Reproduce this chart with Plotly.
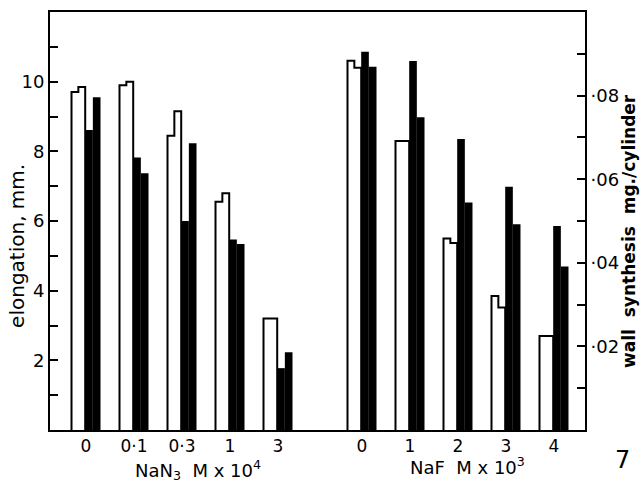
import plotly.graph_objects as go

# Concentration groups: sodium azide (x10^-4 M) then sodium fluoride (x10^-3 M)
group_pos = [0, 1, 2, 3, 4, 5.75, 6.75, 7.75, 8.75, 9.75]
group_labels = ["0", "0·1", "0·3", "1", "3", "0", "1", "2", "3", "4"]

# Elongation, mm (open bars, left axis) - two replicate experiments
elong_a = [9.7, 9.9, 8.45, 6.55, 3.2, 10.6, 8.3, 5.5, 3.85, 2.7]
elong_b = [9.85, 10.0, 9.15, 6.8, 3.2, 10.4, 8.3, 5.37, 3.52, 2.7]

# Wall synthesis, mg./cylinder (solid bars, right axis) - two replicate experiments
wall_a = [0.0718, 0.0652, 0.0500, 0.0456, 0.0148, 0.0905, 0.0883, 0.0696, 0.0582, 0.0488]
wall_b = [0.0796, 0.0614, 0.0686, 0.0445, 0.0186, 0.0869, 0.0748, 0.0544, 0.0492, 0.0391]

left_major = [2, 4, 6, 8, 10]
left_major_text = ["2", "4", "6", "8", "10"]
left_minor = [1, 3, 5, 7, 9, 11]
right_major = [0.02, 0.04, 0.06, 0.08]
right_major_text = ["·02", "·04", "·06", "·08"]
right_minor = [0.01, 0.03, 0.05, 0.07, 0.09]

FONT = "DejaVu Sans"
# bar geometry in x-axis units (one group step = 1)
W_OPEN = 0.1427
W_SOLID = 0.1594
OFF_OPEN = -0.302
OFF_SOLID = -0.0167

fig = go.Figure()

fig.add_trace(go.Bar(x=group_pos, y=elong_a, width=W_OPEN, offset=OFF_OPEN,
                     textposition="none",
                     marker=dict(color="white", line=dict(width=0)), yaxis="y"))
fig.add_trace(go.Bar(x=group_pos, y=elong_b, width=W_OPEN, offset=OFF_OPEN + W_OPEN,
                     textposition="none",
                     marker=dict(color="white", line=dict(width=0)), yaxis="y"))

# stepped outline around each pair of open bars
ox, oy = [], []
for p, a, b in zip(group_pos, elong_a, elong_b):
    xl = p + OFF_OPEN
    xm = xl + W_OPEN
    xr = xm + W_OPEN
    ox += [xl, xl, xm, xm, xr, xr, None]
    oy += [0, a, a, b, b, 0, None]
fig.add_trace(go.Scatter(x=ox, y=oy, mode="lines", yaxis="y",
                         line=dict(color="black", width=2), hoverinfo="skip"))

fig.add_trace(go.Bar(x=group_pos, y=wall_a, width=W_SOLID, offset=OFF_SOLID,
                     textposition="none",
                     marker=dict(color="black", line=dict(width=0)), yaxis="y2"))
fig.add_trace(go.Bar(x=group_pos, y=wall_b, width=W_SOLID, offset=OFF_SOLID + W_SOLID,
                     textposition="none",
                     marker=dict(color="black", line=dict(width=0)), yaxis="y2"))

tick_style = dict(ticks="inside", ticklen=8, tickwidth=1.5, tickcolor="black")

fig.update_layout(
    width=641, height=488,
    margin=dict(l=50, r=56, t=10, b=58),
    paper_bgcolor="white", plot_bgcolor="white",
    showlegend=False, barmode="overlay",
    font=dict(family=FONT, color="black", size=17),
    xaxis=dict(range=[-0.75, 10.396], tickvals=group_pos, ticktext=group_labels,
               showline=True, linecolor="black", linewidth=2, mirror=True,
               ticks="", showgrid=False, zeroline=False,
               tickfont=dict(size=17)),
    yaxis=dict(range=[0, 12], tickvals=left_major, ticktext=left_major_text,
               showline=True, linecolor="black", linewidth=2, mirror=True,
               showgrid=False, zeroline=False, tickfont=dict(size=18),
               minor=dict(tickvals=left_minor, **tick_style), **tick_style),
    yaxis2=dict(range=[0, 0.1], tickvals=right_major, ticktext=right_major_text,
                overlaying="y", side="right",
                showline=True, linecolor="black", linewidth=2,
                showgrid=False, zeroline=False, tickfont=dict(size=18),
                minor=dict(tickvals=right_minor, **tick_style), **tick_style),
    annotations=[
        dict(text="elongation, mm.", xref="paper", yref="paper",
             x=(17 - 50) / 535, y=(430 - 245) / 420, textangle=-90,
             showarrow=False, font=dict(size=20), xanchor="center", yanchor="middle"),
        dict(text="<b>wall  synthesis  mg./cylinder</b>", xref="paper", yref="paper",
             x=(629 - 50) / 535, y=(430 - 230) / 420, textangle=-90,
             showarrow=False, font=dict(size=17), xanchor="center", yanchor="middle"),
        dict(text="NaN<sub>3</sub>  M x 10<sup>4</sup>", xref="paper", yref="paper",
             x=(198 - 50) / 535, y=(430 - 470) / 420,
             showarrow=False, font=dict(size=18), xanchor="center", yanchor="middle"),
        dict(text="NaF  M x 10<sup>3</sup>", xref="paper", yref="paper",
             x=(467 - 50) / 535, y=(430 - 466) / 420,
             showarrow=False, font=dict(size=18), xanchor="center", yanchor="middle"),
        dict(text="7", xref="paper", yref="paper",
             x=(622 - 50) / 535, y=(430 - 460) / 420,
             showarrow=False, font=dict(size=24), xanchor="center", yanchor="middle"),
    ],
)

fig.write_html("out.html")
